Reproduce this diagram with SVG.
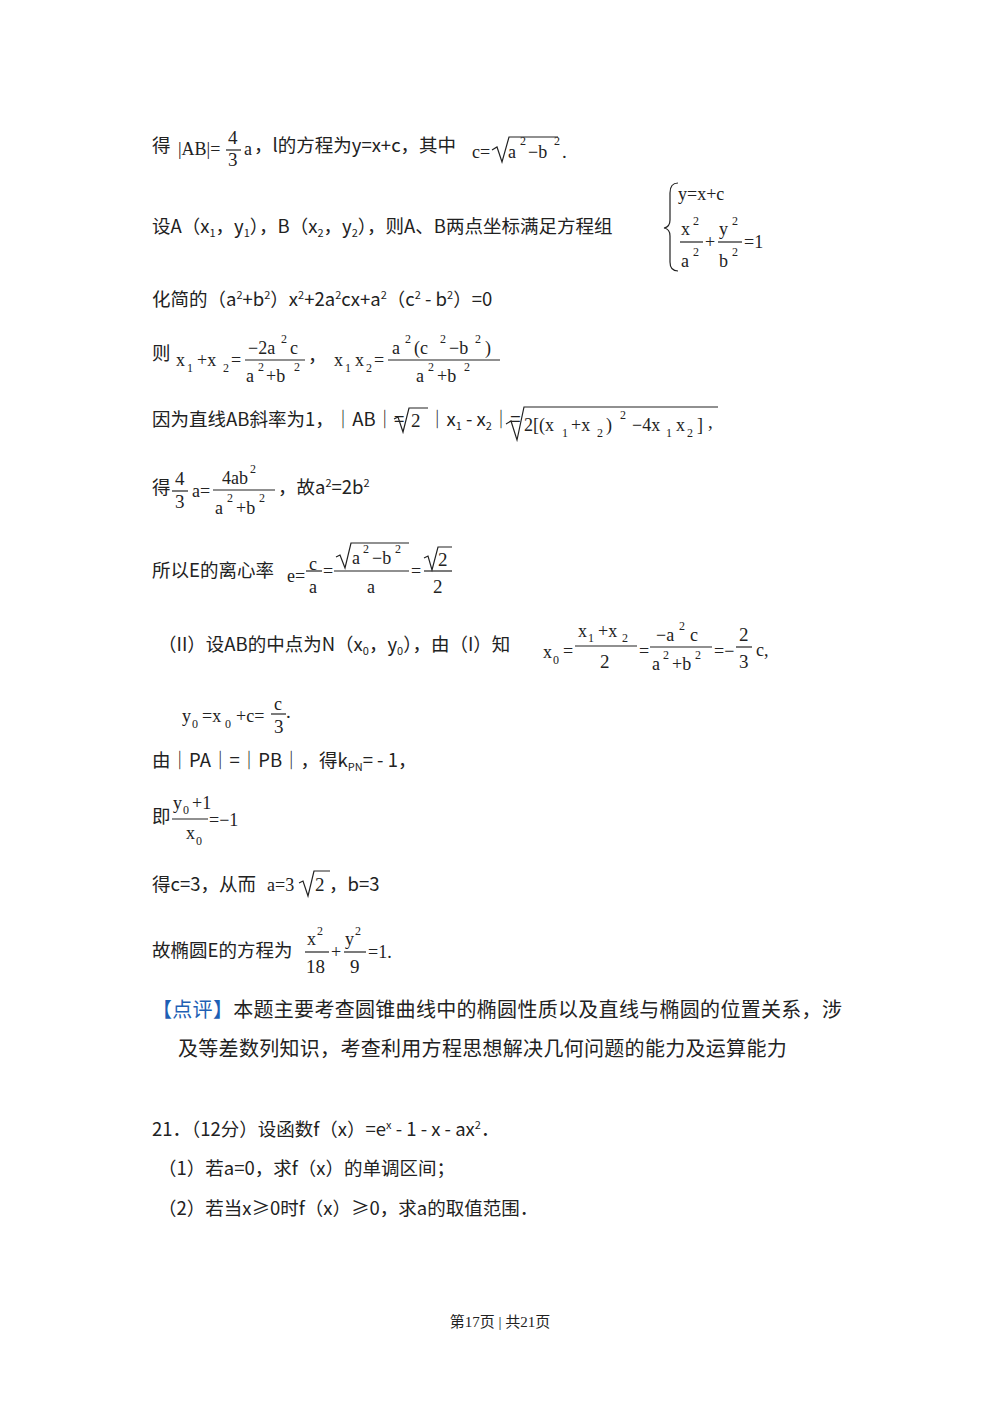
<svg xmlns="http://www.w3.org/2000/svg" width="1000" height="1416" viewBox="0 0 1000 1416">
<style>
text{font-family:"Liberation Serif","Noto Sans CJK SC",serif;font-size:19px;fill:#222}
.m{font-family:"Liberation Serif","DejaVu Serif",serif;font-size:18px}
.s{font-size:12px}
.c{font-family:"Noto Sans CJK SC",sans-serif;font-size:18.5px}
.p{font-family:"Noto Sans CJK SC",sans-serif;font-size:20px;letter-spacing:0.3px}
line,path{stroke:#222;stroke-width:1.2;fill:none}
</style>
<rect width="1000" height="1416" fill="#fff"/>
<!-- line 1 -->
<text x="152" y="152" class="c">得</text>
<text x="178" y="155" class="m">|AB|=</text>
<text x="228" y="144">4</text><line x1="226" y1="150" x2="241" y2="150"/><text x="228" y="166">3</text>
<text x="244" y="155" class="m">a</text><text x="254" y="152" class="c">，l的方程为y=x+c，其中</text>
<text x="472" y="158" class="m">c=</text>
<path d="M492 150 L497 147 L502 162 L509 137 L558 137"/>
<text x="508" y="158" class="m">a</text><text x="520" y="145" class="s">2</text><text x="528" y="158" class="m">−b</text><text x="554" y="145" class="s">2</text><text x="562" y="158">.</text>
<!-- line 2 -->
<text x="152" y="233" class="c">设A（x<tspan font-size="11" dy="4">1</tspan><tspan dy="-4">，y</tspan><tspan font-size="11" dy="4">1</tspan><tspan dy="-4">），B（x</tspan><tspan font-size="11" dy="4">2</tspan><tspan dy="-4">，y</tspan><tspan font-size="11" dy="4">2</tspan><tspan dy="-4">），则A、B两点坐标满足方程组</tspan></text>
<path d="M678 183 Q670 183 670 193 L670 220 Q670 227 664 228 Q670 229 670 236 L670 262 Q670 271 678 271"/>
<text x="678" y="200" class="m">y=x+c</text>
<text x="681" y="235" class="m">x</text><text x="693" y="225" class="s">2</text>
<line x1="680" y1="242" x2="703" y2="242"/>
<text x="681" y="267" class="m">a</text><text x="693" y="256" class="s">2</text>
<text x="705" y="248" class="m">+</text>
<text x="719" y="235" class="m">y</text><text x="732" y="225" class="s">2</text>
<line x1="718" y1="242" x2="742" y2="242"/>
<text x="719" y="267" class="m">b</text><text x="732" y="256" class="s">2</text>
<text x="744" y="248" class="m">=1</text>
<!-- line 3 -->
<text x="152" y="306" class="c">化简的（a<tspan font-size="11" dy="-7">2</tspan><tspan dy="7">+b</tspan><tspan font-size="11" dy="-7">2</tspan><tspan dy="7">）x</tspan><tspan font-size="11" dy="-7">2</tspan><tspan dy="7">+2a</tspan><tspan font-size="11" dy="-7">2</tspan><tspan dy="7">cx+a</tspan><tspan font-size="11" dy="-7">2</tspan><tspan dy="7">（c</tspan><tspan font-size="11" dy="-7">2</tspan><tspan dy="7"> - b</tspan><tspan font-size="11" dy="-7">2</tspan><tspan dy="7">）=0</tspan></text>
<!-- line 4 -->
<text x="152" y="360" class="c">则</text>
<text x="176" y="366" class="m">x</text><text x="187" y="372" class="s">1</text><text x="197" y="366" class="m">+x</text><text x="223" y="372" class="s">2</text><text x="231" y="366" class="m">=</text>
<text x="248" y="354" class="m">−2a</text><text x="281" y="343" class="s">2</text><text x="290" y="354" class="m">c</text>
<line x1="245" y1="360" x2="305" y2="360"/>
<text x="246" y="382" class="m">a</text><text x="258" y="371" class="s">2</text><text x="266" y="382" class="m">+b</text><text x="294" y="371" class="s">2</text>
<text x="308" y="362" class="c">，</text>
<text x="334" y="366" class="m">x</text><text x="345" y="372" class="s">1</text><text x="355" y="366" class="m">x</text><text x="366" y="372" class="s">2</text><text x="374" y="366" class="m">=</text>
<text x="392" y="354" class="m">a</text><text x="405" y="343" class="s">2</text><text x="414" y="354" class="m">(c</text><text x="440" y="343" class="s">2</text><text x="449" y="354" class="m">−b</text><text x="475" y="343" class="s">2</text><text x="485" y="354" class="m">)</text>
<line x1="388" y1="360" x2="500" y2="360"/>
<text x="416" y="382" class="m">a</text><text x="428" y="371" class="s">2</text><text x="437" y="382" class="m">+b</text><text x="464" y="371" class="s">2</text>
<!-- line 5 -->
<text x="152" y="426" class="c">因为直线AB斜率为1，｜AB｜=</text>
<path d="M394 419 L398 417 L403 432 L409 408 L428 408"/>
<text x="411" y="427">2</text>
<text x="428" y="426" class="c">｜x<tspan font-size="11" dy="4">1</tspan><tspan dy="-4"> - x</tspan><tspan font-size="11" dy="4">2</tspan><tspan dy="-4">｜=</tspan></text>
<path d="M506 424 L511 421 L517 440 L524 407 L718 407"/>
<text x="524" y="431" class="m">2[(x</text><text x="562" y="437" class="s">1</text><text x="571" y="431" class="m">+x</text><text x="597" y="437" class="s">2</text><text x="606" y="431" class="m">)</text><text x="620" y="419" class="s">2</text><text x="632" y="431" class="m">−4x</text><text x="666" y="437" class="s">1</text><text x="676" y="431" class="m">x</text><text x="687" y="437" class="s">2</text><text x="697" y="431" class="m">]</text><text x="708" y="428">,</text>
<!-- line 6 -->
<text x="152" y="494" class="c">得</text>
<text x="175" y="485">4</text><line x1="172" y1="491" x2="188" y2="491"/><text x="175" y="508">3</text>
<text x="192" y="497" class="m">a=</text>
<text x="222" y="484" class="m">4ab</text><text x="250" y="473" class="s">2</text>
<line x1="213" y1="490" x2="275" y2="490"/>
<text x="215" y="514" class="m">a</text><text x="227" y="502" class="s">2</text><text x="236" y="514" class="m">+b</text><text x="259" y="502" class="s">2</text>
<text x="278" y="494" class="c">，故a<tspan font-size="11" dy="-7">2</tspan><tspan dy="7">=2b</tspan><tspan font-size="11" dy="-7">2</tspan></text>
<!-- line 7 -->
<text x="152" y="577" class="c">所以E的离心率</text>
<text x="287" y="582" class="m">e=</text>
<text x="309" y="570" class="m">c</text><line x1="306" y1="571" x2="322" y2="571"/><text x="309" y="593" class="m">a</text>
<text x="323" y="577" class="m">=</text>
<path d="M336 557 L340 555 L345 568 L351 543 L409 543"/>
<text x="352" y="564" class="m">a</text><text x="363" y="553" class="s">2</text><text x="372" y="564" class="m">−b</text><text x="395" y="553" class="s">2</text>
<line x1="334" y1="571" x2="409" y2="571"/>
<text x="367" y="593" class="m">a</text>
<text x="411" y="577" class="m">=</text>
<path d="M424 558 L428 556 L432 570 L438 547 L452 547"/><text x="438" y="566">2</text>
<line x1="424" y1="571" x2="452" y2="571"/>
<text x="433" y="593">2</text>
<!-- line 8 -->
<text x="158" y="651" class="c">（II）设AB的中点为N（x<tspan font-size="11" dy="4">0</tspan><tspan dy="-4">，y</tspan><tspan font-size="11" dy="4">0</tspan><tspan dy="-4">），由（I）知</tspan></text>
<text x="543" y="658" class="m">x</text><text x="553" y="664" class="s">0</text><text x="563" y="657" class="m">=</text>
<text x="578" y="637" class="m">x</text><text x="588" y="642" class="s">1</text><text x="598" y="637" class="m">+x</text><text x="622" y="642" class="s">2</text>
<line x1="575" y1="646" x2="637" y2="646"/>
<text x="600" y="668">2</text>
<text x="639" y="657" class="m">=</text>
<text x="656" y="641" class="m">−a</text><text x="679" y="630" class="s">2</text><text x="690" y="641" class="m">c</text>
<line x1="650" y1="647" x2="712" y2="647"/>
<text x="652" y="670" class="m">a</text><text x="663" y="659" class="s">2</text><text x="672" y="670" class="m">+b</text><text x="695" y="659" class="s">2</text>
<text x="714" y="657" class="m">=−</text>
<text x="739" y="641">2</text><line x1="736" y1="647" x2="752" y2="647"/><text x="739" y="668">3</text>
<text x="756" y="656" class="m">c,</text>
<!-- line 9 -->
<text x="182" y="722" class="m">y</text><text x="192" y="728" class="s">0</text><text x="202" y="722" class="m">=x</text><text x="225" y="728" class="s">0</text><text x="236" y="722" class="m">+c=</text>
<text x="274" y="710" class="m">c</text><line x1="271" y1="714" x2="286" y2="714"/><text x="274" y="733">3</text><text x="286" y="718">.</text>
<!-- line 10 -->
<text x="152" y="767" class="c">由｜PA｜=｜PB｜，得k<tspan font-size="11" dy="4">PN</tspan><tspan dy="-4">= - 1，</tspan></text>
<!-- line 11 -->
<text x="152" y="823" class="c">即</text>
<text x="173" y="809" class="m">y</text><text x="183" y="814" class="s">0</text><text x="192" y="809" class="m">+1</text>
<line x1="172" y1="819" x2="208" y2="819"/>
<text x="186" y="839" class="m">x</text><text x="196" y="845" class="s">0</text>
<text x="209" y="826" class="m">=−1</text>
<!-- line 12 -->
<text x="152" y="891" class="c">得c=3，从而</text>
<text x="267" y="891" class="m">a=3</text>
<path d="M299 883 L303 881 L308 896 L314 871 L330 871"/><text x="315" y="891">2</text>
<text x="329" y="891" class="c">，b=3</text>
<!-- line 13 -->
<text x="152" y="957" class="c">故椭圆E的方程为</text>
<text x="307" y="945" class="m">x</text><text x="317" y="935" class="s">2</text>
<line x1="305" y1="952" x2="329" y2="952"/>
<text x="306" y="973">18</text>
<text x="331" y="958" class="m">+</text>
<text x="345" y="945" class="m">y</text><text x="355" y="935" class="s">2</text>
<line x1="344" y1="952" x2="366" y2="952"/>
<text x="350" y="973">9</text>
<text x="368" y="958" class="m">=1.</text>
<!-- comment -->
<text x="152" y="1017" class="p"><tspan fill="#1e5fb4">【点评】</tspan>本题主要考查圆锥曲线中的椭圆性质以及直线与椭圆的位置关系，涉</text>
<text x="178" y="1056" class="p">及等差数列知识，考查利用方程思想解决几何问题的能力及运算能力</text>
<!-- problem 21 -->
<text x="152" y="1136" class="c">21．（12分）设函数f（x）=e<tspan font-size="11" dy="-7">x</tspan><tspan dy="7"> - 1 - x - ax</tspan><tspan font-size="11" dy="-7">2</tspan><tspan dy="7">．</tspan></text>
<text x="158" y="1175" class="c">（1）若a=0，求f（x）的单调区间；</text>
<text x="158" y="1215" class="c">（2）若当x≥0时f（x）≥0，求a的取值范围．</text>
<!-- footer -->
<text x="500" y="1327" text-anchor="middle" style="font-size:15px">第17页 | 共21页</text>
</svg>
